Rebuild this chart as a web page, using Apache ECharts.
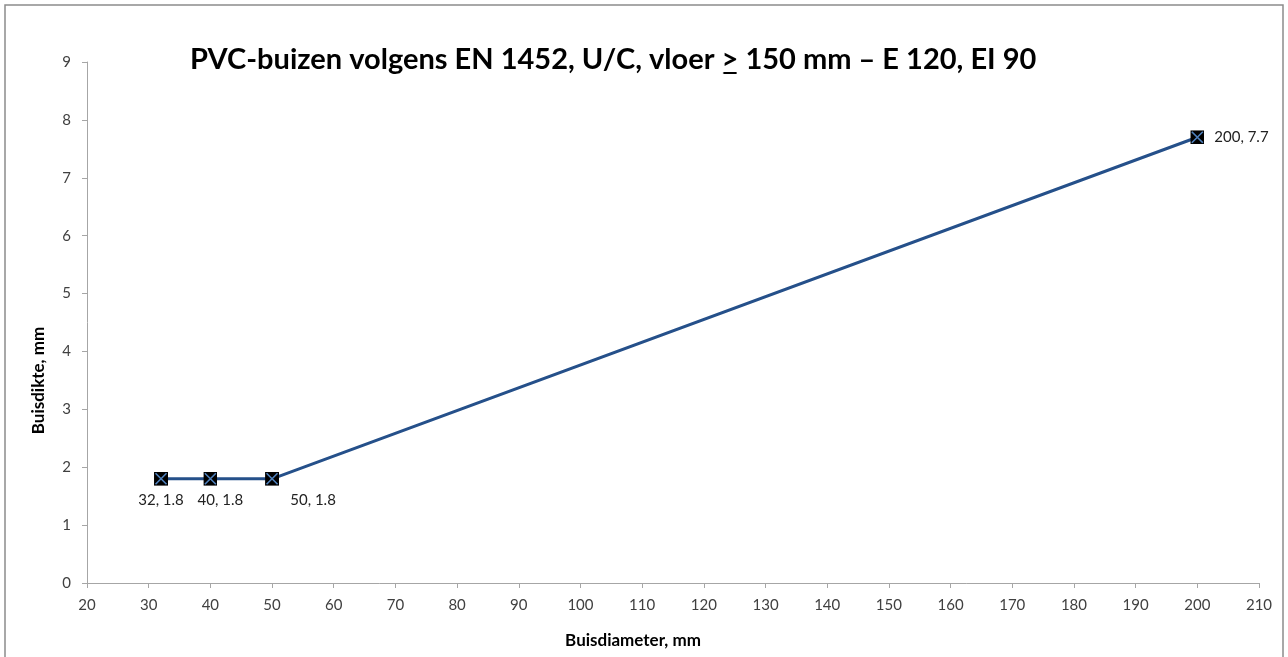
<!DOCTYPE html>
<html>
<head>
<meta charset="utf-8">
<script src="https://cdn.jsdelivr.net/npm/echarts@6/dist/echarts.min.js"></script>
<style>
  html, body { margin: 0; padding: 0; background: #fff; }
  #chart { width: 1288px; height: 657px; }
</style>
</head>
<body>
<div id="chart"></div>
<script>
// data
const diameters = [32, 40, 50, 200];
const thickness = [1.8, 1.8, 1.8, 7.7];
const xTicks = { min: 20, max: 210, interval: 10 };
const yTicks = { min: 0, max: 9, interval: 1 };

const titleHead = 'PVC-buizen volgens EN 1452, U/C, vloer ';
const titleMark = '>';
const titleTail = ' 150 mm \u2013 E 120, EI 90';

// label placement per point (position, offset)
const labelPlace = [
  { position: 'bottom', offset: [0, 2] },
  { position: 'bottom', offset: [10, 2] },
  { position: 'bottom', offset: [41, 2] },
  { position: 'right', offset: [5, 0] }
];

const markerSvg = 'image://data:image/svg+xml;utf8,' + encodeURIComponent(
  '<svg xmlns="http://www.w3.org/2000/svg" width="14" height="14" viewBox="0 0 14 14">' +
  '<rect x="0" y="0" width="14" height="14" fill="#000"/>' +
  '<path d="M1.5 1.5 L12.5 12.5 M12.5 1.5 L1.5 12.5" stroke="#4f81bd" stroke-width="1.6"/>' +
  '</svg>');

// small canvas used as the background of the ">" so it gets an underline
const ulCanvas = document.createElement('canvas');
ulCanvas.width = 10; ulCanvas.height = 36;
const ulCtx = ulCanvas.getContext('2d');
ulCtx.fillStyle = '#000';
ulCtx.fillRect(1, 30, 8, 2);

const myChart = echarts.init(document.getElementById('chart'));
const axisFont = { color: '#404040', fontSize: 15, fontFamily: 'Lato' };
const nameFont = { fontFamily: 'Lato', fontWeight: 'bold', fontSize: 17, color: '#000' };

const option = {
  backgroundColor: '#fff',
  animation: false,
  title: {
    text: '{a|' + titleHead + '}{u|' + titleMark + '}{a|' + titleTail + '}',
    left: 185,
    top: 37,
    textStyle: {
      rich: {
        a: { fontFamily: 'Lato', fontWeight: 'bold', fontSize: 29, color: '#000', lineHeight: 36 },
        u: {
          fontFamily: 'Lato', fontWeight: 'bold', fontSize: 29, color: '#000', lineHeight: 36, height: 36,
          backgroundColor: { image: ulCanvas }
        }
      }
    }
  },
  graphic: [{
    type: 'rect',
    shape: { x: 5, y: 5, width: 1278, height: 660 },
    style: { fill: 'none', stroke: '#8c8c8c', lineWidth: 1.5 },
    silent: true
  }],
  grid: { left: 87, right: 29, top: 62, bottom: 74 },
  xAxis: {
    type: 'value',
    min: xTicks.min,
    max: xTicks.max,
    interval: xTicks.interval,
    name: 'Buisdiameter, mm',
    nameLocation: 'middle',
    nameGap: 49,
    nameTextStyle: Object.assign({ padding: [0, 80, 0, 0] }, nameFont),
    axisLine: { lineStyle: { color: '#a6a6a6' } },
    axisTick: { lineStyle: { color: '#a6a6a6' }, length: 5 },
    axisLabel: Object.assign({ margin: 15 }, axisFont),
    splitLine: { show: false }
  },
  yAxis: {
    type: 'value',
    min: yTicks.min,
    max: yTicks.max,
    interval: yTicks.interval,
    name: 'Buisdikte, mm',
    nameLocation: 'middle',
    nameGap: 40,
    nameTextStyle: Object.assign({ padding: [0, 116, 0, 0] }, nameFont),
    axisLine: { show: true, lineStyle: { color: '#a6a6a6' } },
    axisTick: { show: true, lineStyle: { color: '#a6a6a6' }, length: 5 },
    axisLabel: Object.assign({ margin: 16 }, axisFont),
    splitLine: { show: false }
  },
  series: [{
    type: 'line',
    data: diameters.map((d, i) => ({
      value: [d, thickness[i]],
      label: labelPlace[i]
    })),
    symbol: markerSvg,
    symbolSize: 14,
    showAllSymbol: true,
    lineStyle: { color: '#25508a', width: 3 },
    itemStyle: { color: '#25508a' },
    label: {
      show: true,
      fontFamily: 'Lato',
      fontSize: 15,
      color: '#222',
      formatter: p => p.value[0] + ', ' + p.value[1]
    },
    z: 3
  }]
};
myChart.setOption(option);
</script>
</body>
</html>
